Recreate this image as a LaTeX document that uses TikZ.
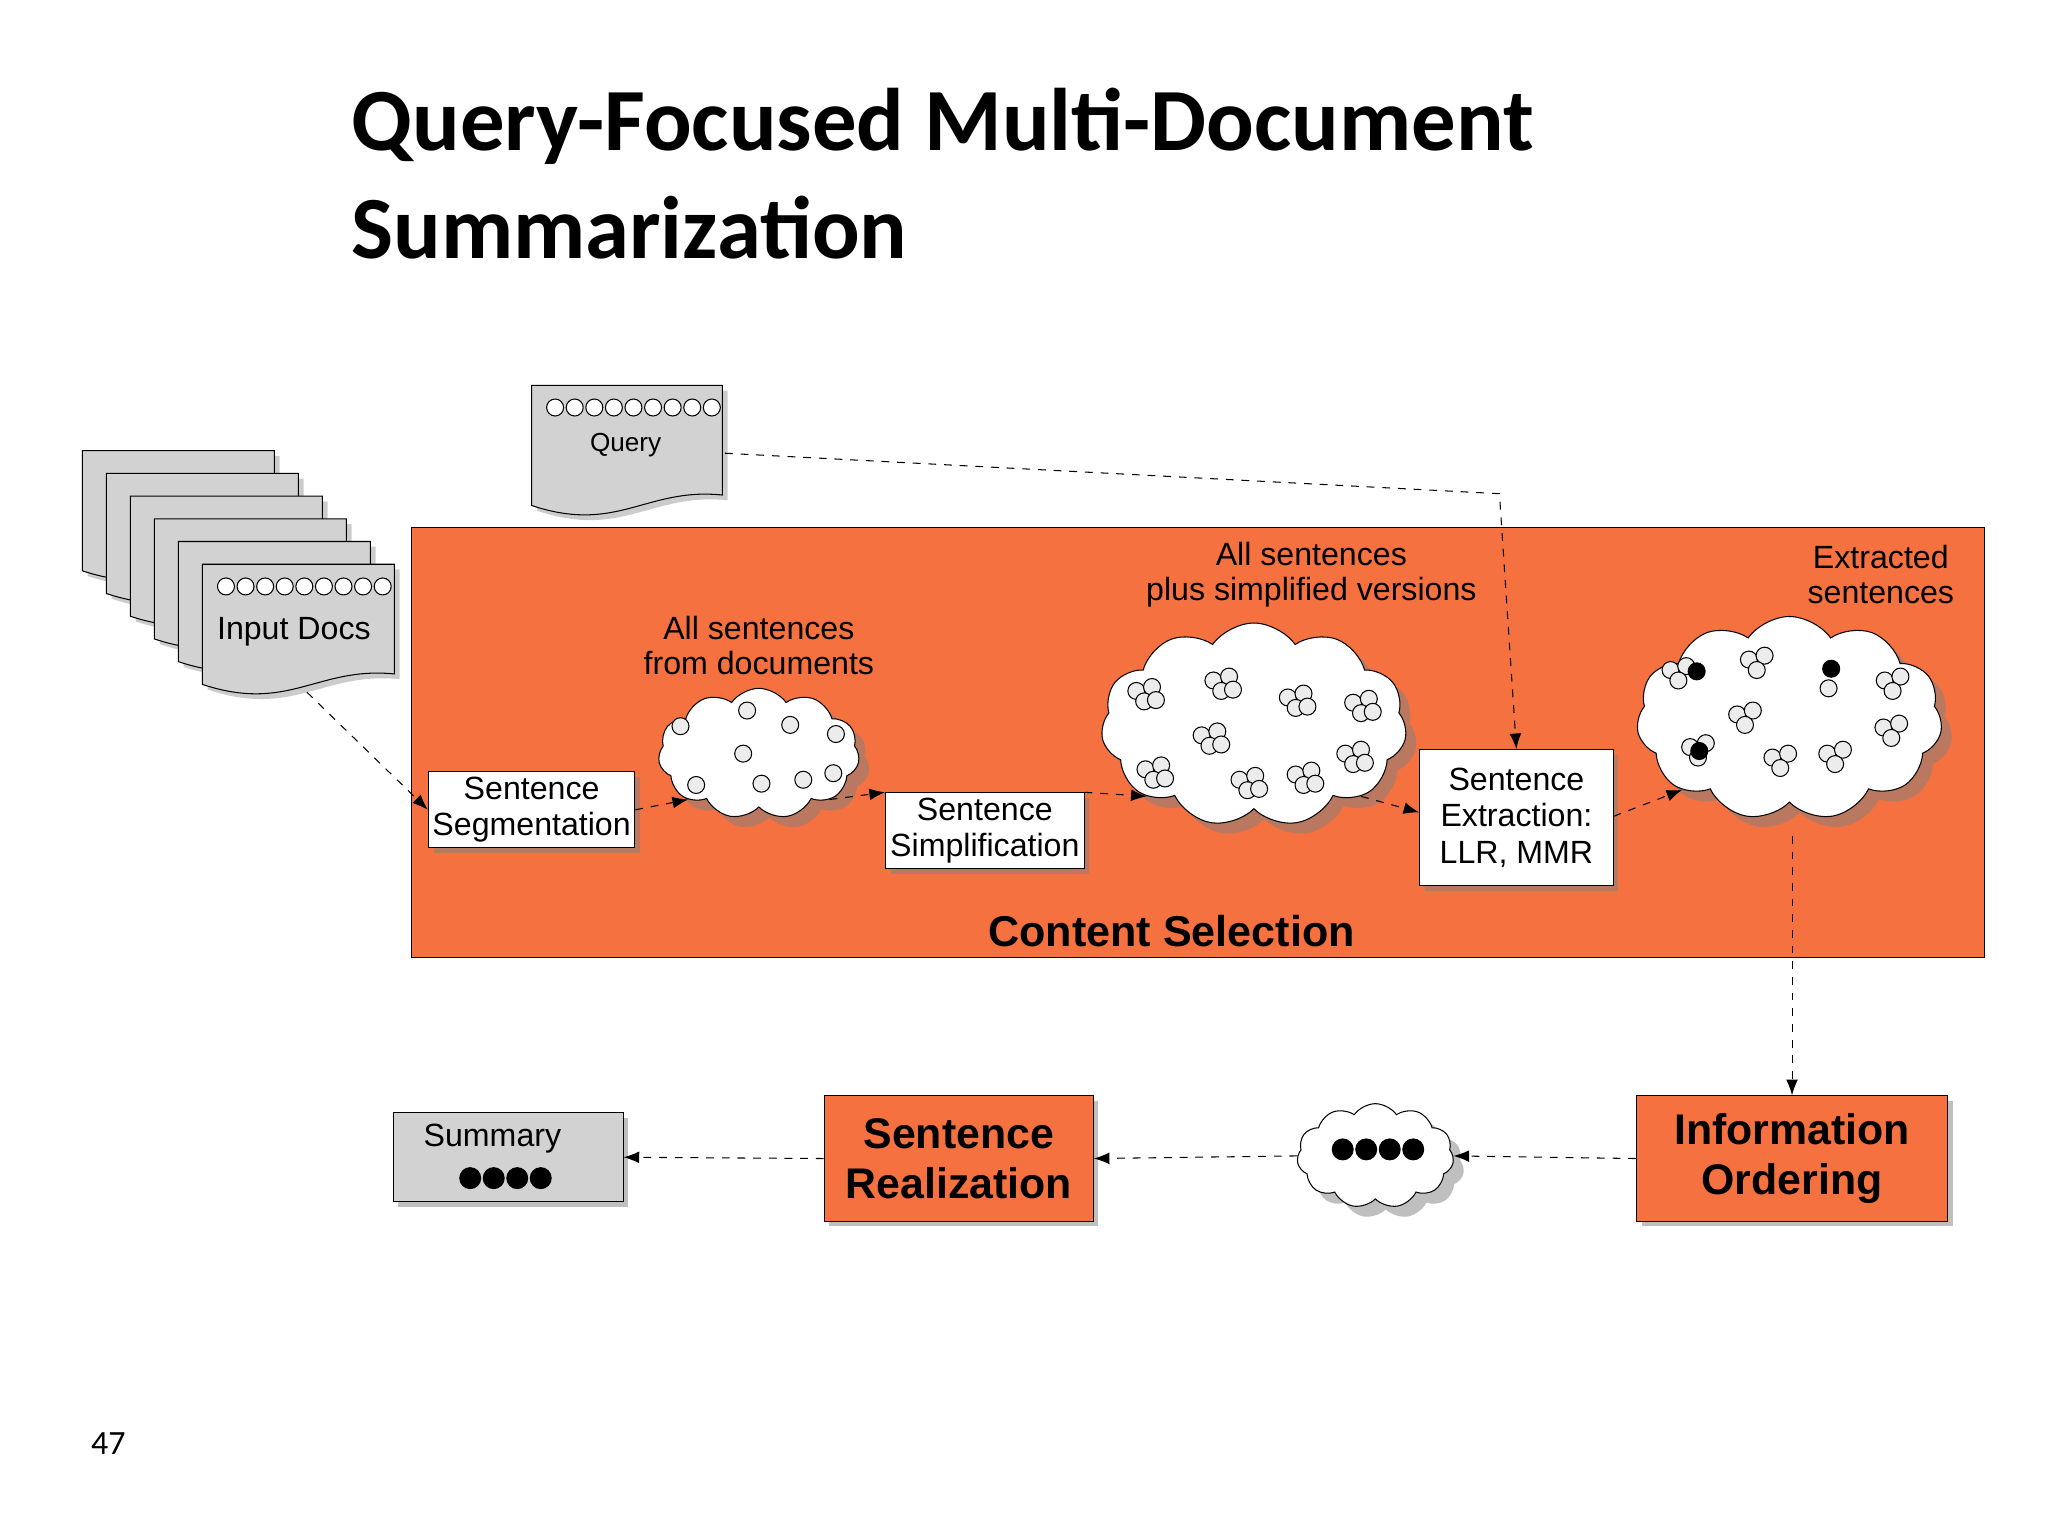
\documentclass[tikz,border=0pt]{standalone}
\usepackage{fontspec}
\setmainfont{Liberation Sans}
\newfontfamily\titlefont{Carlito}
\usetikzlibrary{shapes.symbols,shadows,arrows.meta}
\definecolor{org}{RGB}{246,113,64}
\definecolor{pg}{RGB}{210,210,210}
\newcommand\docshape[4]{% x y w h
  \draw[fill=pg,drop shadow={shadow xshift=2pt,shadow yshift=-2pt,opacity=.4}] (#1,#2) -- (#1+#3,#2) -- (#1+#3,#2+#4-8)
   .. controls (#1+0.6*#3,#2+#4-14) and (#1+0.45*#3,#2+#4+22) .. (#1,#2+#4) -- cycle;}
\tikzset{
  box/.style={draw,fill=white,align=center,font=\fontsize{12.3pt}{14pt}\selectfont,inner sep=1.5pt,drop shadow={shadow xshift=2pt,shadow yshift=-2pt,opacity=.5}},
  obox/.style={draw,fill=org,align=center,font=\bfseries\fontsize{16.4pt}{19pt}\selectfont,drop shadow={shadow xshift=2pt,shadow yshift=-2pt,opacity=.5}},
  cl/.style={cloud,cloud puffs=11,cloud puff arc=110,aspect=1.5,draw,fill=white,inner sep=0pt,drop shadow={shadow xshift=4pt,shadow yshift=-4pt,opacity=.5}},
  sc/.style={circle,draw,fill=gray!15,inner sep=0pt,minimum size=6.5pt},
  bc/.style={circle,draw,fill=black,inner sep=0pt,minimum size=6.5pt},
  arr/.style={-{Latex[length=6pt]},dashed,thin},
  lab/.style={font=\fontsize{12.3pt}{13.5pt}\selectfont,align=center}
}
\begin{document}
\begin{tikzpicture}[x=0.5pt,y=-0.5pt]
\useasboundingbox[fill=white] (0,0) rectangle (1568,1176);
\node[anchor=base west,font=\titlefont\bfseries\fontsize{34pt}{40pt}\selectfont] at (262,115) {Query-Focused Multi-Document};
\node[anchor=base west,font=\titlefont\bfseries\fontsize{34pt}{40pt}\selectfont] at (262,198) {Summarization};
\node[font=\titlefont\fontsize{13pt}{15pt}\selectfont] at (83,1105) {47};
% content selection
\draw[fill=org] (315,404) rectangle (1519,733);
\node[font=\bfseries\fontsize{16.5pt}{19pt}\selectfont] at (897,713) {Content Selection};
% docs stack
\foreach \i in {0,...,5}{\docshape{63+18.4*\i}{345+17.4*\i}{147}{92}}
\foreach \k in {0,...,8}{\node[sc,fill=white] at (173+15*\k,449) {};}
\node[font=\fontsize{12.3pt}{14pt}\selectfont] (docs) at (225,484) {Input Docs};
\coordinate (docsout) at (235,530);
% query
\docshape{407}{295}{146}{92}
\foreach \k in {0,...,8}{\node[sc,fill=white] at (425+15*\k,312) {};}
\node[font=\fontsize{10pt}{12pt}\selectfont] at (479,341) {Query};
\coordinate (qout) at (555,347);
\coordinate (qbend) at (1148,378);
% boxes
\node[box,minimum width=79pt,minimum height=29pt] (seg) at (407,620) {Sentence\\Segmentation};
\node[box,minimum width=76pt,minimum height=29pt] (simp) at (754,636) {Sentence\\Simplification};
\node[box,minimum width=74pt,minimum height=52pt] (ext) at (1161,626) {Sentence\\Extraction:\\LLR, MMR};
% clouds
\node[cl,minimum width=77pt,minimum height=50pt] (c1) at (581,577) {};
\node[cl,minimum width=117pt,minimum height=78pt] (c2) at (960,555) {};
\node[cl,minimum width=117pt,minimum height=78pt] (c3) at (1370,550) {};
\node[cl,minimum width=60pt,minimum height=40pt] (c4) at (1053,885) {};
\foreach \p in {(521,556),(572,544),(605,555),(640,562),(569,577),(533,601),(583,600),(615,597),(638,592)}{\node[sc] at \p {};}
% cloud2 clusters
\foreach \cx/\cy in {876/532,935/524,992/537,1042/541,926/566,1036/580,883/592,955/600,998/596}{
  \node[sc] at (\cx-6,\cy-3) {}; \node[sc] at (\cx+6,\cy-6) {}; \node[sc] at (\cx,\cy+5) {}; \node[sc] at (\cx+9,\cy+4) {};}
% cloud3 clusters
\foreach \cx/\cy in {1285/516,1345/508,1449/524,1336/550,1448/560,1363/583,1300/575,1405/580}{
  \node[sc] at (\cx-6,\cy-3) {}; \node[sc] at (\cx+6,\cy-6) {}; \node[sc] at (\cx,\cy+5) {};}
\node[bc] at (1299,514) {};
\node[bc] at (1402,512) {};
\node[bc] at (1301,575) {};
\node[sc] at (1400,527) {};
% cloud4 dots
\foreach \k in {0,...,3}{\node[bc,minimum size=8pt] at (1028+18*\k,880) {};}
% labels
\node[lab] at (581,494) {All sentences\\from documents};
\node[lab] at (1004,440) {All sentences\\plus simplified versions};
\node[lab] at (1440,440) {Extracted\\sentences};
% bottom row
\node[obox,minimum width=119pt,minimum height=48pt] (io) at (1372,887) {Information\\Ordering};
\node[obox,minimum width=103pt,minimum height=48pt] (sr) at (734,887) {Sentence\\Realization};
\node[draw,fill=pg,minimum width=88pt,minimum height=34pt,inner sep=0pt,drop shadow={shadow xshift=2pt,shadow yshift=-2pt,opacity=.5}] (sum) at (389,886) {};
\node[font=\fontsize{12.3pt}{14pt}\selectfont] at (377,872) {Summary};
\foreach \k in {0,...,3}{\node[bc,minimum size=8pt] at (360+18*\k,902) {};}
% arrows
\draw[arr] (docsout) -- (seg.west);
\draw[arr] (seg.east) -- (c1.south west);
\draw[arr] (c1.south east) -- (simp.north west);
\draw[arr] (simp.north east) -- (c2.south west);
\draw[arr] (c2.south east) -- (ext.north west |- 0,622);
\draw[arr] (ext.east |- 0,625) -- (c3.south west);
\draw[arr] (qout) -- (qbend) -- (ext.north);
\draw[arr] (1372,640) -- (io.north);
\draw[arr] (io.west) -- (c4.east);
\draw[arr] (c4.west) -- (sr.east);
\draw[arr] (sr.west) -- (sum.east);
\end{tikzpicture}
\end{document}
